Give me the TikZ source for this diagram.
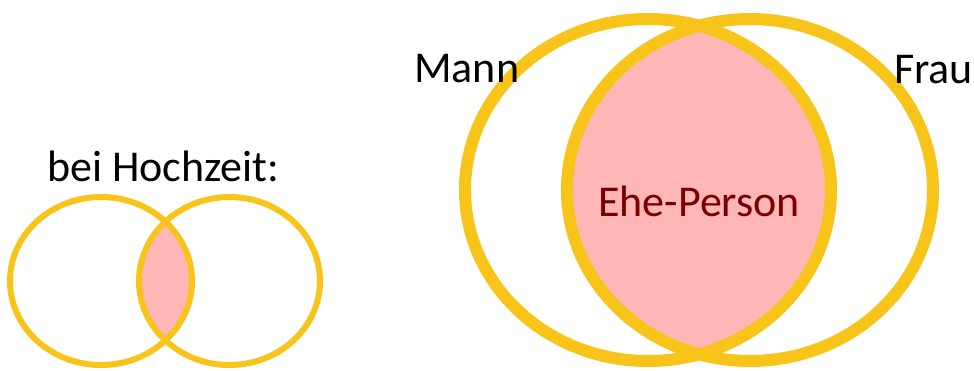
\documentclass[tikz,border=0pt]{standalone}
\usepackage{fontspec}
\setmainfont{Carlito}
\definecolor{gold}{HTML}{F8C41A}
\definecolor{lens}{HTML}{FFB6B6}
\definecolor{maroon}{HTML}{7A0000}
\tikzset{
  ring/.style={draw=gold},
  bigring/.style={ring, line width=12pt},
  smallring/.style={ring, line width=6pt},
  label/.style={font=\fontsize{44}{50}\selectfont, text=black, inner sep=0pt, anchor=base west},
}
\begin{document}
\begin{tikzpicture}[x=1pt,y=-1pt]
\useasboundingbox (0,0) rectangle (974,370);
\fill[white] (0,0) rectangle (974,370);
% small diagram
\begin{scope}
  \clip (101,281) ellipse [x radius=91, y radius=84];
  \fill[lens] (229.5,281) ellipse [x radius=90.5, y radius=84];
\end{scope}
\draw[smallring] (101,281) ellipse [x radius=91, y radius=84];
\draw[smallring] (229.5,281) ellipse [x radius=90.5, y radius=84];
% large diagram
\begin{scope}
  \clip (648,190) ellipse [x radius=183, y radius=171];
  \fill[lens] (750,190) ellipse [x radius=183, y radius=171];
\end{scope}
\draw[bigring] (648,190) ellipse [x radius=183, y radius=171];
\draw[bigring] (750,190) ellipse [x radius=183, y radius=171];
% texts
\node[label] (hochzeit) at (47,181) {bei Hochzeit:};
\node[label] (mann) at (414,82) {Mann};
\node[label] (frau) at (894,83) {Frau};
\node[label, text=maroon] (ehe) at (598,216) {Ehe-Person};
\end{tikzpicture}
\end{document}
